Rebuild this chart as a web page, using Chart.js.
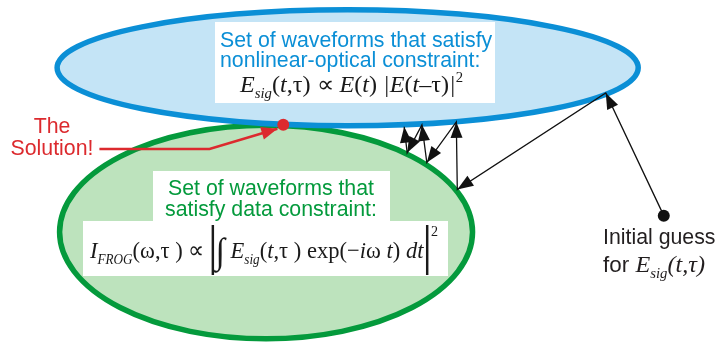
<!DOCTYPE html>
<html>
<head>
<meta charset="utf-8">
<script src="https://cdn.jsdelivr.net/npm/chart.js@4.4.1/dist/chart.umd.min.js"></script>
<style>
    html, body { margin: 0; padding: 0; background: #ffffff; }
    #wrap { width: 715px; height: 354px; position: relative; }
</style>
</head>
<body>
<div id="wrap"><canvas id="frogChart"></canvas></div>
<script>
// the two constraint sets (green = data, blue = nonlinear-optical)
const setNames = ["data constraint", "nonlinear-optical constraint"];
const setCenterX = [264.5, 347.5];
const setCenterY = [234, 64];
const setRadiusX = [210, 295.5];
const setRadiusY = [110.5, 60];

// iteration path, starting at the initial guess
const guessX = [669, 610, 459, 458, 428, 423, 408, 405];
const guessY = [217, 90, 190, 120, 162, 123, 152, 125];

// the solution and its label leader
const solutionX = [282];
const solutionY = [123];
const leaderX = [95, 207, 276];
const leaderY = [148, 148, 127];

const blueLines = ["Set of waveforms that satisfy", "nonlinear-optical constraint:"];
const greenLines = ["Set of waveforms that", "satisfy data constraint:"];
const solutionLines = ["The", "Solution!"];
const guessLines = ["Initial guess", "for "];

const BLUE = "#0b8fd6";
const BLUE_FILL = "#c4e4f6";
const GREEN = "#049a3c";
const GREEN_FILL = "#bde3bd";
const RED = "#dc2a2e";
const LABEL = 21.3;

const sans = s => s + 'px "Liberation Sans", Arial, sans-serif';
const serif = (s, it) => (it ? "italic " : "") + s + 'px "Liberation Serif", "Times New Roman", serif';

function runWidth(ctx, runs) {
    let w = 0;
    runs.forEach(r => {
        if (r.bar) { w += r.w; return; }
        ctx.font = r.f;
        w += ctx.measureText(r.t).width;
    });
    return w;
}

function drawRuns(ctx, runs, left, right, base) {
    const w = runWidth(ctx, runs);
    ctx.save();
    ctx.translate(left, base);
    ctx.scale((right - left) / w, 1);
    let cx = 0;
    runs.forEach(r => {
        if (r.bar) {
            ctx.fillRect(cx + r.w / 2 - 1.3, r.top, 2.6, r.h);
            cx += r.w;
            return;
        }
        ctx.font = r.f;
        ctx.fillText(r.t, cx, r.dy || 0);
        cx += ctx.measureText(r.t).width;
    });
    ctx.restore();
}

const formulaBlue = [
    { t: "E", f: serif(23, true) },
    { t: "sig", f: serif(14, true), dy: 6 },
    { t: "(", f: serif(23) },
    { t: "t", f: serif(23, true) },
    { t: ",τ) ∝ ", f: serif(23) },
    { t: "E", f: serif(23, true) },
    { t: "(", f: serif(23) },
    { t: "t", f: serif(23, true) },
    { t: ") ", f: serif(23) },
    { t: "|E", f: serif(23, true) },
    { t: "(", f: serif(23) },
    { t: "t", f: serif(23, true) },
    { t: "–τ)", f: serif(23) },
    { t: "|", f: serif(23, true) },
    { t: "2", f: serif(14), dy: -10 }
];

const formulaGreen = [
    { t: "I", f: serif(24, true) },
    { t: "FROG", f: serif(14, true), dy: 6 },
    { t: "(ω,τ ) ∝ ", f: serif(24) },
    { bar: true, w: 6, top: -33, h: 50 },
    { t: "∫", f: serif(36), dy: 5 },
    { t: " E", f: serif(24, true) },
    { t: "sig", f: serif(14, true), dy: 6 },
    { t: "(", f: serif(24) },
    { t: "t", f: serif(24, true) },
    { t: ",τ ) exp(−", f: serif(24) },
    { t: "i", f: serif(24, true) },
    { t: "ω ", f: serif(24) },
    { t: "t", f: serif(24, true) },
    { t: ") ", f: serif(24) },
    { t: "dt", f: serif(24, true) },
    { bar: true, w: 8, top: -33, h: 50 },
    { t: "2", f: serif(15), dy: -22 }
];

const formulaGuess = [
    { t: guessLines[1], f: sans(LABEL) },
    { t: "E", f: serif(23, true) },
    { t: "sig", f: serif(14, true), dy: 6 },
    { t: "(", f: serif(23, true) },
    { t: "t", f: serif(23, true) },
    { t: ",τ)", f: serif(23, true) }
];

function arrowHead(ctx, x0, y0, x1, y1, len, half) {
    const a = Math.atan2(y1 - y0, x1 - x0);
    ctx.beginPath();
    ctx.moveTo(x1, y1);
    ctx.lineTo(x1 - len * Math.cos(a) + half * Math.sin(a), y1 - len * Math.sin(a) - half * Math.cos(a));
    ctx.lineTo(x1 - len * Math.cos(a) - half * Math.sin(a), y1 - len * Math.sin(a) + half * Math.cos(a));
    ctx.closePath();
    ctx.fill();
}

const diagramPlugin = {
    id: "diagram",
    beforeDatasetsDraw(chart) {
        const { ctx, scales: { x, y } } = chart;
        ctx.save();
        // constraint sets
        for (let i = 0; i < setNames.length; i++) {
            const px = x.getPixelForValue(setCenterX[i]);
            const py = y.getPixelForValue(setCenterY[i]);
            const rx = Math.abs(x.getPixelForValue(setCenterX[i] + setRadiusX[i]) - px);
            const ry = Math.abs(y.getPixelForValue(setCenterY[i] + setRadiusY[i]) - py);
            ctx.beginPath();
            ctx.ellipse(px, py, rx, ry, 0, 0, Math.PI * 2);
            ctx.fillStyle = i === 0 ? GREEN_FILL : BLUE_FILL;
            ctx.fill();
            ctx.lineWidth = 5.5;
            ctx.strokeStyle = i === 0 ? GREEN : BLUE;
            ctx.stroke();
        }

        // white label boxes
        ctx.fillStyle = "#ffffff";
        ctx.fillRect(215, 22, 280, 81);
        ctx.fillRect(153, 171, 237, 51);
        ctx.fillRect(83, 221, 365, 55);

        ctx.textBaseline = "alphabetic";
        ctx.font = sans(LABEL);
        ctx.fillStyle = BLUE;
        ctx.textAlign = "left";
        ctx.fillText(blueLines[0], 220, 47);
        ctx.fillText(blueLines[1], 220, 67);

        ctx.fillStyle = GREEN;
        ctx.textAlign = "center";
        ctx.fillText(greenLines[0], 271, 195);
        ctx.fillText(greenLines[1], 271, 216);

        ctx.fillStyle = RED;
        ctx.fillText(solutionLines[0], 52, 133);
        ctx.fillText(solutionLines[1], 52, 155);

        ctx.fillStyle = "#231f20";
        ctx.textAlign = "left";
        ctx.fillText(guessLines[0], 603, 244);
        drawRuns(ctx, formulaGuess, 603, 705, 272);

        ctx.fillStyle = "#1a1a1a";
        drawRuns(ctx, formulaBlue, 240, 463, 92);
        drawRuns(ctx, formulaGreen, 90, 438, 258);
        ctx.restore();
    },
    afterDatasetsDraw(chart) {
        const { ctx } = chart;
        ctx.save();
        chart.data.datasets.forEach((ds, i) => {
            if (!ds.arrows) return;
            const pts = chart.getDatasetMeta(i).data;
            ctx.fillStyle = ds.borderColor;
            for (let k = 1; k < pts.length; k++) {
                if (ds.arrows === "last" && k < pts.length - 1) continue;
                arrowHead(ctx, pts[k - 1].x, pts[k - 1].y, pts[k].x, pts[k].y, ds.headLen, ds.headHalf);
            }
        });
        ctx.restore();
    }
};

const toPoints = (xs, ys) => xs.map((v, i) => ({ x: v, y: ys[i] }));

new Chart(document.getElementById("frogChart").getContext("2d"), {
    type: "scatter",
    data: {
        datasets: [
            {
                label: "Iterations",
                data: toPoints(guessX, guessY),
                showLine: true,
                borderColor: "#111111",
                borderWidth: 1.3,
                pointRadius: 0,
                arrows: "all",
                headLen: 16,
                headHalf: 6
            },
            {
                label: "Leader",
                data: toPoints(leaderX, leaderY),
                showLine: true,
                borderColor: RED,
                borderWidth: 2.5,
                pointRadius: 0,
                arrows: "last",
                headLen: 16,
                headHalf: 6.5
            },
            {
                label: "The Solution!",
                data: toPoints(solutionX, solutionY),
                pointRadius: 6,
                pointBackgroundColor: RED,
                pointBorderWidth: 0
            },
            {
                label: "Initial guess",
                data: toPoints(guessX.slice(0, 1), guessY.slice(0, 1)),
                pointRadius: 6,
                pointBackgroundColor: "#111111",
                pointBorderWidth: 0
            }
        ]
    },
    options: {
        responsive: true,
        maintainAspectRatio: false,
        animation: false,
        layout: { padding: 0 },
        plugins: { legend: { display: false }, tooltip: { enabled: false } },
        scales: {
            x: { type: "linear", min: 0, max: 715, display: false },
            y: { type: "linear", min: 0, max: 354, reverse: true, display: false }
        }
    },
    plugins: [diagramPlugin]
});
</script>
</body>
</html>
